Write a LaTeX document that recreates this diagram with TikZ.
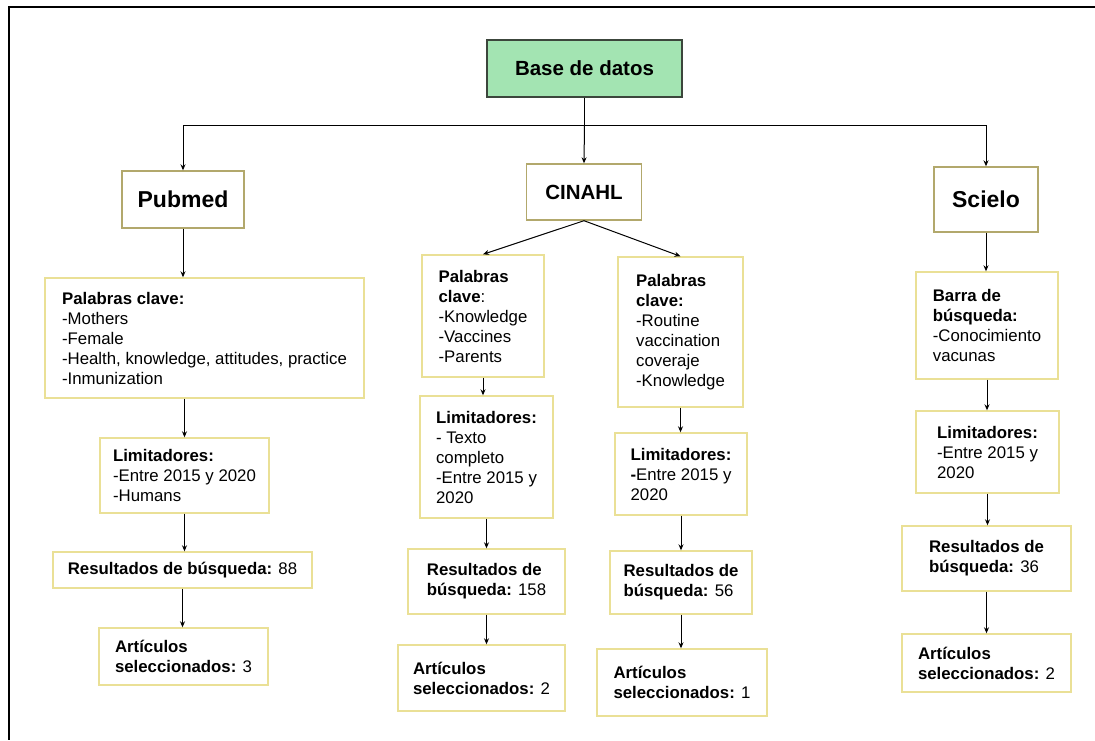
\documentclass[tikz,border=0pt]{standalone}
\usepackage{fontspec}
\setmainfont{Liberation Sans}
\usetikzlibrary{arrows.meta,positioning}
\definecolor{basefill}{RGB}{163,228,178}
\definecolor{baseline}{RGB}{60,70,60}
\definecolor{headline}{RGB}{178,168,108}
\definecolor{boxline}{RGB}{234,224,150}

\begin{document}
\begin{tikzpicture}[x=1pt,y=-1pt,
	box/.style = {draw=boxline, line width=1.4pt, fill=white, align=left, inner sep=0pt,
		font=\fontsize{16.8}{20}\selectfont},
	head/.style = {draw=headline, line width=1.4pt, fill=white, inner sep=0pt,
		font=\fontsize{20.5}{24}\selectfont\bfseries},
	big/.style = {font=\fontsize{23}{27}\selectfont\bfseries},
	arr/.style = {line width=1pt, -{Stealth[length=6pt,width=5pt]}}]
	\useasboundingbox (0,0) rectangle (1095,740);
	% frame
	\draw[line width=1.8pt] (1095,7) -- (9,7) -- (9,740);

	\node[head, draw=baseline, fill=basefill, minimum width=195pt, minimum height=57pt] (base) at (584.5,68.5) {Base de datos};
	\node[head, big, minimum width=122pt, minimum height=57pt] (pubmed) at (183,199.5) {Pubmed};
	\node[head, minimum width=115pt, minimum height=56pt] (cinahl) at (584,192) {CINAHL};
	\node[head, big, minimum width=104pt, minimum height=65pt] (scielo) at (986,199.5) {Scielo};

	% Pubmed
	\node[box, minimum width=319pt, minimum height=120pt] (pkey) at (204.5,338) {\textbf{Palabras clave:}\\-Mothers\\-Female\\-Health, knowledge, attitudes, practice\\-Inmunization};
	\node[box, minimum width=169pt, minimum height=75pt] (plim) at (184.5,475.5) {\textbf{Limitadores:}\\-Entre 2015 y 2020\\-Humans};
	\node[box, minimum width=259pt, minimum height=36pt] (pres) at (182.5,570) {\textbf{Resultados de búsqueda:} 88};
	\node[box, minimum width=169pt, minimum height=57pt] (part) at (183.5,656.5) {\textbf{Artículos}\\\textbf{seleccionados:} 3};

	% CINAHL
	\node[box, minimum width=122pt, minimum height=122pt] (ckeyA) at (483,316) {\textbf{Palabras}\\\textbf{clave}:\\-Knowledge\\-Vaccines\\-Parents};
	\node[box, minimum width=133pt, minimum height=122pt] (climA) at (486.5,457) {\textbf{Limitadores:}\\- Texto\\completo\\-Entre 2015 y\\2020};
	\node[box, minimum width=157pt, minimum height=65pt] (cresA) at (486.5,581.5) {\textbf{Resultados de}\\\textbf{búsqueda:} 158};
	\node[box, minimum width=167pt, minimum height=66pt] (cartA) at (481.5,678) {\textbf{Artículos}\\\textbf{seleccionados:} 2};
	\node[box, minimum width=125pt, minimum height=150pt] (ckeyB) at (680.5,332) {\textbf{Palabras}\\\textbf{clave:}\\-Routine\\vaccination\\coveraje\\-Knowledge};
	\node[box, minimum width=132pt, minimum height=82pt] (climB) at (681,474) {\textbf{Limitadores:}\\\textbf{-}Entre 2015 y\\2020};
	\node[box, minimum width=142pt, minimum height=63pt] (cresB) at (681,582.5) {\textbf{Resultados de}\\\textbf{búsqueda:} 56};
	\node[box, minimum width=170pt, minimum height=67pt] (cartB) at (682,682.5) {\textbf{Artículos}\\\textbf{seleccionados:} 1};

	% Scielo
	\node[box, minimum width=142pt, minimum height=107pt] (skey) at (987,325.5) {\textbf{Barra de}\\\textbf{búsqueda:}\\-Conocimiento\\vacunas};
	\node[box, minimum width=143pt, minimum height=82pt] (slim) at (987.5,452) {\textbf{Limitadores:}\\-Entre 2015 y\\2020};
	\node[box, minimum width=169pt, minimum height=65pt] (sres) at (986.5,558.5) {\textbf{Resultados de}\\\textbf{búsqueda:} 36};
	\node[box, minimum width=169pt, minimum height=58pt] (sart) at (986.5,663) {\textbf{Artículos}\\\textbf{seleccionados:} 2};

	\coordinate (hub) at (584.5,125);
	\coordinate (hubL) at (183,125);
	\coordinate (hubR) at (986,125);
	\draw[line width=1pt] (base.south) -- (hub);
	\draw[line width=1pt] (hubL) -- (hubR);
	\draw[arr] (hubL) -- (pubmed.north);
	\draw[arr] (hub) -- (cinahl.north);
	\draw[arr] (hubR) -- (scielo.north);

	\draw[arr] (pubmed.south) -- (pubmed.south |- pkey.north);
	\draw[arr] (pkey.south -| plim.north) -- (plim.north);
	\draw[arr] (plim.south) -- (plim.south |- pres.north);
	\draw[arr] (pres.south) -- (pres.south |- part.north);

	\draw[arr] (cinahl.south) -- (ckeyA.north);
	\draw[arr] (cinahl.south) -- (ckeyB.north);
	\draw[arr] (ckeyA.south) -- (ckeyA.south |- climA.north);
	\draw[arr] (climA.south) -- (climA.south |- cresA.north);
	\draw[arr] (cresA.south) -- (cresA.south |- cartA.north);
	\draw[arr] (ckeyB.south) -- (ckeyB.south |- climB.north);
	\draw[arr] (climB.south) -- (climB.south |- cresB.north);
	\draw[arr] (cresB.south) -- (cresB.south |- cartB.north);

	\draw[arr] (scielo.south) -- (scielo.south |- skey.north);
	\draw[arr] (skey.south) -- (skey.south |- slim.north);
	\draw[arr] (slim.south) -- (slim.south |- sres.north);
	\draw[arr] (sres.south) -- (sres.south |- sart.north);
\end{tikzpicture}
\end{document}
